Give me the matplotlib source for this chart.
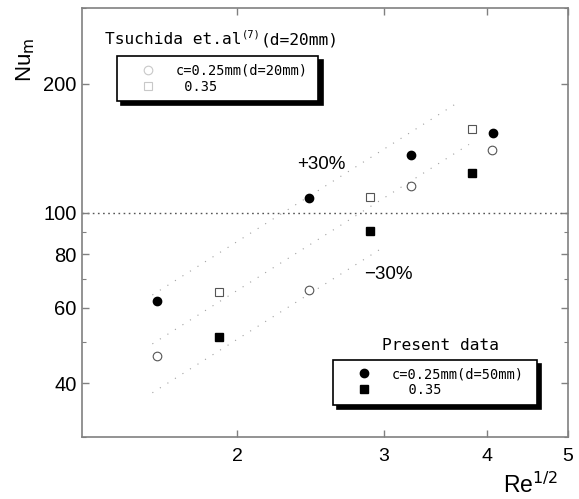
import matplotlib
matplotlib.use("Agg")
import matplotlib.pyplot as plt
import numpy as np
from matplotlib.ticker import FixedLocator, FixedFormatter, NullFormatter, LogLocator

# Re^(1/2) positions and mean Nusselt numbers
re_half_present_025 = [1.60, 2.44, 3.24, 4.06]
nu_present_025 = [62.2, 108.0, 136.5, 153.0]

re_half_present_035 = [1.90, 2.89, 3.83]
nu_present_035 = [51.4, 90.5, 123.5]

re_half_tsuchida_025 = [1.60, 2.44, 3.24, 4.05]
nu_tsuchida_025 = [46.4, 65.9, 115.6, 139.7]

re_half_tsuchida_035 = [1.90, 2.89, 3.83]
nu_tsuchida_035 = [65.3, 108.8, 156.7]

# correlation band: Nu = coef * (Re^(1/2))^slope, with +-30 % limits
corr_coef = 28.3
corr_slope = 1.22
band_factor = 1.3
band_x_range = {"upper": (1.58, 3.65), "mid": (1.58, 3.80), "lower": (1.58, 3.00)}

y_ticks = [40, 60, 80, 100, 200]
x_ticks = [2, 3, 4, 5]

sans = ["Liberation Sans", "DejaVu Sans"]
mono = ["DejaVu Sans Mono"]

fig = plt.figure(figsize=(5.79, 4.99), dpi=100)
ax = fig.add_axes([82 / 579, 1 - 437 / 499, 486 / 579, 429 / 499])
ax.set_xscale("log")
ax.set_yscale("log")
ax.set_xlim(1.30, 5.0)
ax.set_ylim(30, 300)

# reference line at Nu = 100
ax.axhline(100, color="#555555", lw=1.0, ls=(0, (1.2, 2.5)), zorder=1)

# correlation line and +-30 % bounds
for key, factor in (("upper", band_factor), ("mid", 1.0), ("lower", 1 / band_factor)):
    x0, x1 = band_x_range[key]
    xs = np.geomspace(x0, x1, 50)
    ax.plot(xs, factor * corr_coef * xs ** corr_slope, color="#a0a0a0",
            lw=0.8, ls=(0, (1, 7)), zorder=1)

ax.text(2.36, 129.4, "+30%", family=sans, fontsize=13.5, ha="left", va="center")
ax.text(2.84, 71.7, "\u221230%", family=sans, fontsize=13.5, ha="left", va="center")

h_tc, = ax.plot(re_half_tsuchida_025, nu_tsuchida_025, ls="none", marker="o",
                ms=6.2, mfc="white", mec="#555555", mew=0.8, zorder=3)
h_ts, = ax.plot(re_half_tsuchida_035, nu_tsuchida_035, ls="none", marker="s",
                ms=6.2, mfc="white", mec="#555555", mew=0.8, zorder=3)
h_pc, = ax.plot(re_half_present_025, nu_present_025, ls="none", marker="o",
                ms=6.0, color="black", zorder=3)
h_ps, = ax.plot(re_half_present_035, nu_present_035, ls="none", marker="s",
                ms=6.0, color="black", zorder=3)

# axes frame and ticks
for s in ax.spines.values():
    s.set_color("#808080")
    s.set_linewidth(1.2)
ax.yaxis.set_major_locator(FixedLocator(y_ticks))
ax.yaxis.set_major_formatter(FixedFormatter([str(v) for v in y_ticks]))
ax.yaxis.set_minor_locator(LogLocator(base=10, subs=np.arange(2, 10)))
ax.yaxis.set_minor_formatter(NullFormatter())
ax.xaxis.set_major_locator(FixedLocator(x_ticks))
ax.xaxis.set_major_formatter(FixedFormatter([str(v) for v in x_ticks]))
ax.xaxis.set_minor_formatter(NullFormatter())
ax.xaxis.set_minor_locator(FixedLocator([]))
ax.tick_params(which="both", direction="in", top=True, right=True, color="#808080")
ax.tick_params(which="major", length=5, width=1)
ax.tick_params(which="minor", length=3, width=0.8)
ax.tick_params(axis="y", which="major", labelsize=14.5, pad=4)
ax.tick_params(axis="x", which="major", labelsize=14, pad=8)
for lab in ax.get_xticklabels() + ax.get_yticklabels():
    lab.set_family(sans)

fig.text(26 / 579, 1 - 60 / 499, r"Nu$_\mathrm{m}$", rotation=90, family=sans,
         fontsize=16, ha="center", va="center")
fig.text(530 / 579, 1 - 485 / 499, r"Re$^{1/2}$", family=sans,
         fontsize=16.5, ha="center", va="center")

# legends
shadow = {"ox": 3, "oy": -3, "color": "black", "alpha": 1}
common = dict(loc="upper left", mode="expand", borderaxespad=0, fancybox=False,
              edgecolor="black", framealpha=1, shadow=shadow, prop={"family": mono, "size": 9.8},
              handlelength=3.5, handletextpad=0.3, borderpad=0.55, labelspacing=0.15,
              numpoints=1)
leg1 = ax.legend([h_tc, h_ts], ["c=0.25mm(d=20mm)", " 0.35"],
                 bbox_to_anchor=(0.0714, 0.783, 0.415, 0.105), **common)
leg1.get_frame().set_linewidth(1.2)
for h in leg1.legend_handles:
    h.set_markeredgecolor("#c8c8c8")
ax.add_artist(leg1)
leg2 = ax.legend([h_pc, h_ps], ["c=0.25mm(d=50mm)", "  0.35"],
                 bbox_to_anchor=(0.516, 0.0746, 0.420, 0.106), **common)
leg2.get_frame().set_linewidth(1.2)

# legend titles
t1 = fig.text(105 / 579, 1 - 40 / 499, "Tsuchida et.al", family=mono, fontsize=11.7,
              ha="left", va="center")
ax.annotate("(7)", xy=(1, 0.55), xycoords=t1, family=mono, fontsize=7.5,
            ha="left", va="bottom")
ax.annotate("(d=20mm)", xy=(1, 0), xycoords=t1, xytext=(14, 0), textcoords="offset points",
            family=mono, fontsize=11.7, ha="left", va="bottom")
fig.text(441 / 579, 1 - 345 / 499, "Present data", family=mono, fontsize=11.7,
         ha="center", va="center")

fig.savefig("out.png", dpi=100)
